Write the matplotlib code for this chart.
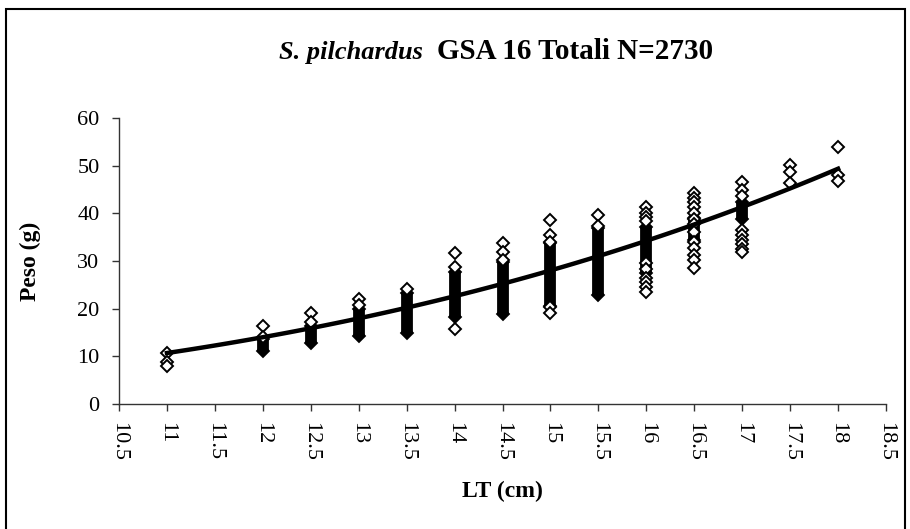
import matplotlib
matplotlib.use("Agg")
import matplotlib.pyplot as plt
from matplotlib.patches import Rectangle
import numpy as np

plt.rcParams['font.family'] = ['Liberation Serif', 'DejaVu Serif']

# length classes (cm)
lengths = [11, 12, 12.5, 13, 13.5, 14, 14.5, 15, 15.5, 16, 16.5, 17, 17.5, 18]

# dense bands of overlapping points (weight range, g); None = no dense band
band_low = [None, 11.2, 12.7, 14.3, 15.0, 18.2, 18.9, 20.5, 22.8, 27.4, 34.5, 38.8, None, None]
band_high = [None, 13.7, 16.4, 20.0, 23.3, 27.7, 29.8, 33.8, 36.9, 37.2, 39.0, 42.3, None, None]

# single visible points (g) per length class
single_pts = [
    [10.8, 8.9, 8.0],
    [16.3, 14.1],
    [19.0, 17.1],
    [22.1, 20.7],
    [24.2],
    [31.6, 28.8, 15.8],
    [33.8, 31.9, 30.2],
    [38.6, 35.4, 34.0, 20.3, 19.0],
    [39.7, 37.4],
    [41.4, 40.1, 39.2, 38.3, 29.5, 28.3, 26.5, 25.6, 24.6, 23.5],
    [44.3, 43.3, 42.4, 41.3, 40.1, 38.9, 37.8, 36.1, 34.0, 32.7, 31.2, 30.2, 28.5],
    [46.6, 44.8, 43.6, 36.5, 35.5, 34.5, 33.5, 32.6, 31.8],
    [50.1, 48.7, 46.4],
    [53.9, 48.1, 46.7],
]

# power trendline W = a * L^b
trend_a = 0.00623
trend_b = 3.106
trend_from = 11
trend_to = 18

fig = plt.figure(figsize=(9.1, 5.29), dpi=100)
ax = fig.add_axes([119 / 910, 1 - 404 / 529, (886 - 119) / 910, (404 - 118) / 529])

for x, lo, hi in zip(lengths, band_low, band_high):
    if lo is None:
        continue
    ax.plot([x, x], [lo, hi], color='black', lw=8.5, solid_capstyle='butt', zorder=2)
    ax.plot([x, x], [lo, hi], 'D', ms=6.6, mfc='black', mec='black', mew=1.3, zorder=2)

for x, pts in zip(lengths, single_pts):
    ax.plot([x] * len(pts), pts, 'D', ms=6.6, mfc='white', mec='black', mew=1.4, zorder=3)

xs = np.linspace(trend_from, trend_to, 100)
ax.plot(xs, trend_a * xs ** trend_b, color='black', lw=3.2, zorder=4)

ax.set_xlim(10.5, 18.5)
ax.set_ylim(0, 60)
ax.set_xticks(np.arange(10.5, 18.51, 0.5))
ax.set_xticklabels([('%g' % v) for v in np.arange(10.5, 18.51, 0.5)], rotation=-90)
ax.set_yticks(range(0, 61, 10))
ax.tick_params(direction='out', length=5, width=1, labelsize=16, color='#333333', pad=8)
ax.tick_params(axis='y', pad=9)
for s in ['top', 'right']:
    ax.spines[s].set_visible(False)
for s in ['left', 'bottom']:
    ax.spines[s].set_color('#333333')
    ax.spines[s].set_linewidth(1)

ax.set_xlabel('LT (cm)', fontsize=17, fontweight='bold', labelpad=14)
ax.set_ylabel('Peso (g)', fontsize=17, fontweight='bold', labelpad=26)

fig.text(423 / 910, 1 - 59 / 529, 'S. pilchardus', fontsize=19, fontweight='bold',
         fontstyle='italic', ha='right', va='baseline')
fig.text(437 / 910, 1 - 59 / 529, 'GSA 16 Totali N=2730', fontsize=21, fontweight='bold',
         ha='left', va='baseline')

fig.patches.append(Rectangle((6 / 910, -0.02), 899 / 910, 1.02 - 9 / 529, transform=fig.transFigure,
                             fill=False, edgecolor='black', lw=1.5))

fig.savefig('out.png', dpi=100)
